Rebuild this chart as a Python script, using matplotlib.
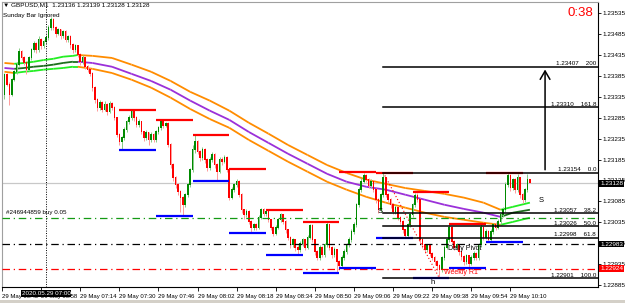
import numpy as np
import pandas as pd
import matplotlib
matplotlib.use("Agg")
import matplotlib.pyplot as plt
from matplotlib.transforms import blended_transform_factory

plt.rcParams["font.family"] = ["Liberation Sans", "DejaVu Sans"]

# GBPUSD M1, 29 May 2020 from 06:43. Prices in points: 23136 -> 1.23136
first_time = "2020-05-29 06:43"
first_open = 23340
closes = [23388, 23364, 23340, 23376, 23395, 23412, 23443, 23428, 23416, 23400,
          23428, 23447, 23462, 23447, 23471, 23457, 23467, 23476, 23500, 23519,
          23500, 23486, 23495, 23481, 23490, 23471, 23478, 23459, 23447, 23457,
          23435, 23419, 23428, 23407, 23400, 23390, 23357, 23328, 23309, 23321,
          23304, 23316, 23299, 23318, 23309, 23285, 23244, 23227, 23237, 23256,
          23275, 23285, 23299, 23285, 23268, 23275, 23251, 23237, 23249, 23232,
          23244, 23232, 23251, 23261, 23275, 23266, 23271, 23220, 23172, 23141,
          23125, 23108, 23094, 23077, 23101, 23125, 23160, 23208, 23227, 23204,
          23189, 23208, 23184, 23165, 23184, 23196, 23172, 23156, 23184, 23180,
          23189, 23160, 23094, 23113, 23125, 23132, 23101, 23065, 23053, 23060,
          23036, 23022, 23029, 23022, 23046, 23065, 23055, 23060, 23041, 23022,
          23008, 23022, 23041, 23053, 23036, 23017, 22998, 22981, 22993, 22974,
          22969, 22984, 22993, 22974, 22998, 23027, 22993, 22964, 22950, 22974,
          22957, 22981, 23029, 22974, 22957, 22969, 22941, 22931, 22950, 22964,
          22981, 22993, 23012, 23029, 23077, 23113, 23132, 23146, 23137, 23122,
          23132, 23113, 23089, 23065, 23101, 23141, 23101, 23089, 23077, 23060,
          23070, 23046, 23036, 23017, 23003, 23029, 23053, 23077, 23098, 23089,
          22993, 22981, 22969, 22979, 22960, 22950, 22941, 22931, 22921, 22950,
          22974, 22993, 23022, 22988, 22974, 22981, 22964, 22953, 22941, 22955,
          22936, 22950, 22960, 22950, 22981, 23022, 22998, 23012, 22993, 23012,
          23029, 23022, 23036, 23053, 23065, 23125, 23146, 23117, 23137, 23113,
          23141, 23101, 23089, 23113, 23136, 23128]
highs = [23392, 23391, 23370, 23380, 23400, 23418, 23452, 23448, 23432, 23420,
         23432, 23452, 23468, 23466, 23481, 23476, 23472, 23482, 23506, 23526,
         23524, 23504, 23500, 23498, 23496, 23494, 23484, 23482, 23464, 23462,
         23460, 23440, 23434, 23430, 23412, 23404, 23394, 23360, 23332, 23328,
         23326, 23324, 23320, 23326, 23322, 23312, 23288, 23248, 23242, 23262,
         23280, 23292, 23304, 23302, 23290, 23282, 23278, 23254, 23256, 23252,
         23250, 23248, 23256, 23266, 23282, 23280, 23276, 23274, 23224, 23176,
         23146, 23130, 23112, 23098, 23106, 23130, 23166, 23220, 23244, 23232,
         23208, 23214, 23212, 23188, 23190, 23202, 23200, 23176, 23190, 23190,
         23196, 23194, 23163, 23120, 23130, 23138, 23136, 23104, 23068, 23066,
         23064, 23040, 23034, 23034, 23052, 23070, 23070, 23067, 23064, 23044,
         23026, 23028, 23046, 23058, 23056, 23040, 23020, 23002, 22998, 22996,
         22980, 22990, 22998, 22996, 23004, 23032, 23030, 22996, 22968, 22980,
         22978, 22986, 23036, 23032, 22978, 22975, 22972, 22946, 22956, 22970,
         22986, 23000, 23018, 23036, 23082, 23120, 23140, 23154, 23150, 23140,
         23138, 23136, 23116, 23092, 23106, 23154, 23144, 23106, 23092, 23080,
         23076, 23074, 23050, 23040, 23020, 23034, 23058, 23082, 23106, 23104,
         23092, 22996, 22984, 22984, 22982, 22964, 22954, 22944, 22936, 22955,
         22980, 22998, 23030, 23026, 22992, 22986, 22984, 22968, 22956, 22960,
         22958, 22956, 22966, 22964, 22986, 23030, 23026, 23018, 23016, 23018,
         23034, 23036, 23042, 23058, 23072, 23132, 23154, 23150, 23142, 23140,
         23150, 23144, 23104, 23118, 23150, 23139]
lows = [23330, 23360, 23316, 23336, 23372, 23390, 23408, 23424, 23410, 23390,
        23396, 23424, 23442, 23440, 23443, 23450, 23452, 23462, 23472, 23495,
        23494, 23478, 23482, 23474, 23476, 23466, 23466, 23452, 23440, 23442,
        23430, 23412, 23414, 23402, 23394, 23384, 23350, 23320, 23300, 23304,
        23298, 23300, 23292, 23296, 23304, 23280, 23238, 23220, 23208, 23232,
        23250, 23270, 23280, 23278, 23262, 23264, 23246, 23230, 23232, 23220,
        23228, 23226, 23228, 23246, 23256, 23260, 23262, 23214, 23166, 23134,
        23118, 23100, 23060, 23051, 23072, 23096, 23120, 23156, 23200, 23198,
        23182, 23184, 23178, 23158, 23160, 23180, 23166, 23134, 23152, 23172,
        23176, 23155, 23088, 23090, 23108, 23120, 23096, 23058, 23044, 23048,
        23030, 23010, 23016, 23016, 23018, 23042, 23050, 23050, 23036, 23016,
        23002, 23004, 23018, 23036, 23030, 23010, 22992, 22974, 22976, 22966,
        22957, 22964, 22978, 22968, 22970, 22994, 22988, 22958, 22944, 22946,
        22952, 22952, 22976, 22968, 22950, 22952, 22914, 22926, 22926, 22946,
        22960, 22976, 22988, 23006, 23024, 23072, 23108, 23128, 23132, 23116,
        23118, 23108, 23082, 23058, 23060, 23096, 23096, 23084, 23070, 23054,
        23055, 23040, 23030, 23010, 22998, 22998, 23024, 23048, 23072, 23084,
        22986, 22974, 22962, 22964, 22954, 22944, 22934, 22922, 22901, 22915,
        22946, 22970, 22988, 22982, 22968, 22968, 22958, 22946, 22934, 22936,
        22926, 22932, 22946, 22944, 22946, 22976, 22992, 22994, 22988, 22988,
        23006, 23016, 23018, 23030, 23048, 23060, 23120, 23110, 23112, 23106,
        23108, 23094, 23082, 23084, 23108, 23128]

# moving average band (center / upper / lower), read at anchor bars
ma_bars = [0, 4, 8, 12, 16, 20, 24, 28, 30, 36, 44, 52, 60, 68, 76, 84, 92, 100,
           108, 116, 124, 132, 140, 148, 156, 164, 172, 180, 188, 196, 203, 208, 215]
ma_center = [23404, 23402, 23404, 23407, 23409, 23412, 23416, 23419, 23419, 23416, 23407,
             23390, 23373, 23352, 23326, 23302, 23280, 23251, 23225, 23199, 23175, 23151,
             23132, 23120, 23113, 23101, 23089, 23077, 23067, 23058, 23048, 23058, 23065]
ma_upper = [23416, 23414, 23416, 23419, 23423, 23426, 23431, 23433, 23435, 23433, 23428,
            23412, 23395, 23373, 23347, 23326, 23302, 23273, 23247, 23220, 23196, 23172,
            23153, 23137, 23127, 23117, 23110, 23103, 23094, 23082, 23065, 23072, 23082]
ma_lower = [23395, 23392, 23395, 23397, 23400, 23402, 23404, 23407, 23407, 23402, 23392,
            23376, 23357, 23333, 23306, 23282, 23261, 23232, 23206, 23180, 23156, 23132,
            23113, 23096, 23082, 23070, 23058, 23048, 23041, 23034, 23029, 23036, 23046]
ma_trend = ["d"] + ["u"] * 7 + ["d"] * 22 + ["u"] * 2

# 15 minute high / low marks
box_start = [47, 62, 77, 92, 107, 122, 137, 152, 167, 182, 197]
box_high = [23304, 23280, 23244, 23163, 23065, 23036, 23156, 23154, 23108, 23031, 23153]
box_low = [23208, 23050, 23134, 23010, 22957, 22914, 22926, 22998, 22902, 22926, 22988]

# fibonacci
fib_start, fib_end = 155, 178
fib_prices = [1.23407, 1.23310, 1.23154, 1.23057, 1.23026, 1.22998, 1.22901]
fib_names = ["200", "161.8", "0.0", "38.2", "50.0", "61.8", "100.0"]

order_price = 1.23046
pivot_price = 1.22983
r1_price = 1.22924
bid_price = 1.23128

def px(v):
    return 1 + np.asarray(v, dtype=float) / 1e5

c = px(closes)
h = px(highs)
l = px(lows)
o = np.r_[px(first_open), c[:-1]]
t = np.arange(len(c))
times = pd.date_range(first_time, periods=len(c), freq="min")

fig = plt.figure(figsize=(6.25, 3.03), dpi=100)
ax = fig.add_axes([2 / 625, 16 / 303, 596 / 625, 285 / 303])
ax.set_xlim(-0.41, 242.86)
ax.set_ylim(1.228803, 1.235618)

# MA band
for k in range(len(ma_bars) - 1):
    xs = ma_bars[k:k + 2]
    if ma_trend[k] == "u":
        cu, cc = "#22ee22", "#1d6e1d"
    else:
        cu, cc = "#ff8c00", "#9b30d9"
    ax.plot(xs, px(ma_upper[k:k + 2]), color=cu, lw=1.3, zorder=2, solid_capstyle="butt")
    ax.plot(xs, px(ma_lower[k:k + 2]), color=cu, lw=1.3, zorder=2, solid_capstyle="butt")
    ax.plot(xs, px(ma_center[k:k + 2]), color=cc, lw=1.3, zorder=2, solid_capstyle="butt")

# candles
up = c >= o
ax.vlines(t[up], l[up], h[up], color="#86cc86", lw=0.7, zorder=3)
ax.vlines(t[~up], l[~up], h[~up], color="#ff9a9a", lw=0.7, zorder=3)
body = np.abs(c - o) + 0.000015
ax.bar(t[up], body[up], bottom=np.minimum(o, c)[up], width=0.66, color="#008a00", lw=0, zorder=4)
ax.bar(t[~up], body[~up], bottom=np.minimum(o, c)[~up], width=0.66, color="#ff0000", lw=0, zorder=4)

# horizontal levels
dashdot = (0, (6, 3, 1, 3))
ax.axhline(bid_price, color="#c8c8c8", lw=0.9, zorder=1)
ax.axhline(order_price, color="#149a14", lw=0.9, ls=dashdot, zorder=5)
ax.axhline(pivot_price, color="black", lw=0.9, ls=dashdot, zorder=5)
ax.axhline(r1_price, color="red", lw=0.9, ls=dashdot, zorder=5)

# 15 minute marks
for s, hi, lo in zip(box_start, box_high, box_low):
    ax.plot([s, s + 15], [px(hi)] * 2, color="red", lw=1.6, zorder=5, solid_capstyle="butt")
    ax.plot([s, s + 15], [px(lo)] * 2, color="blue", lw=1.6, zorder=5, solid_capstyle="butt")

# fibo
ax.plot([fib_start, fib_end], [fib_prices[2], fib_prices[-1]], color="red", lw=0.8, ls=(0, (1, 2)), zorder=6)
trx = blended_transform_factory(ax.transAxes, ax.transData)
for p, name in zip(fib_prices, fib_names):
    ax.plot([fib_start, 242.86], [p, p], color="black", lw=1.1, zorder=6)
    ax.text(0.997, p + 0.00001, f"{p:.5f}    {name}", transform=trx, ha="right", va="bottom",
            fontsize=4.5, zorder=7)
ax.annotate("", xy=(221.2, fib_prices[0]), xytext=(221.2, fib_prices[2]),
            arrowprops=dict(arrowstyle="->,head_width=0.35,head_length=0.6", color="black", lw=1.1),
            zorder=7)

# chart objects text
ax.text(153.9, 1.23062, "S", fontsize=5.5, ha="center", va="center", zorder=7)
ax.text(219.6, 1.23086, "S", fontsize=5.5, ha="center", va="center", zorder=7)
ax.text(175.1, 1.22890, "h", fontsize=5.5, ha="center", va="center", zorder=7)
ax.text(181.5, 1.22972, "Daily Pivot", fontsize=5, ha="left", va="center", zorder=7)
ax.text(180.0, 1.22914, "Weekly R1", fontsize=5, color="red", ha="left", va="center", zorder=7)
ax.text(0.8, 1.23058, "#246944859 buy 0.05", fontsize=4.5, ha="left", va="center", zorder=7)

# crosshair
ax.axvline(17, color="black", lw=0.7, ls=(0, (1, 1.5)), zorder=6)

# axes
for side in ["left", "top"]:
    ax.spines[side].set_color("#a0a0a0")
    ax.spines[side].set_linewidth(0.8)
for side in ["right", "bottom"]:
    ax.spines[side].set_linewidth(0.8)
ax.yaxis.tick_right()
yt = np.arange(1.22885, 1.23536, 0.0005)
ax.set_yticks(yt)
ax.set_yticklabels([f"{v:.5f}" for v in yt], fontsize=4.6)
ax.tick_params(axis="y", length=2, width=0.6, pad=1)
xt = np.arange(-1, len(c), 16)
ax.set_xticks(xt)
xlabels = [(times[0] + pd.Timedelta(minutes=int(b))).strftime("%d %b %H:%M") for b in xt]
ax.set_xticklabels(xlabels, fontsize=4.3, ha="left")
ax.tick_params(axis="x", length=3, width=0.6, pad=2)
for lab in ax.get_xticklabels():
    lab.set_x(lab.get_position()[0])

# boxed price labels on the scale
for p, bg in [(bid_price, "black"), (pivot_price, "black"), (r1_price, "red")]:
    ax.text(1.0035, p, f"{p:.5f}", transform=trx, ha="left", va="center", fontsize=4.6,
            color="white", bbox=dict(boxstyle="square,pad=0.12", fc=bg, ec="none"), zorder=8,
            clip_on=False)

# crosshair time label
trxa = blended_transform_factory(ax.transData, ax.transAxes)
ax.text(17, -0.024, "2020.05.29 07:00", transform=trxa, ha="center", va="center", fontsize=4.5,
        color="white", bbox=dict(boxstyle="square,pad=0.15", fc="black", ec="none"),
        clip_on=False, zorder=9)

# header texts
fig.text(3 / 625, 1 - 5 / 303, "\u25bc GBPUSD,M1  1.23136 1.23139 1.23128 1.23128",
         fontsize=4.6, va="center", ha="left")
fig.text(3 / 625, 1 - 15 / 303, "Sunday Bar Ignored", fontsize=4.6, va="center", ha="left")
fig.text(593 / 625, 1 - 13 / 303, "0:38", fontsize=9.5, color="red", va="center", ha="right")

# bottom scroll strip
fig.add_artist(plt.Rectangle((0, 0), 1, 3 / 303, transform=fig.transFigure,
                             color="#d4d0c8", lw=0))

fig.savefig("out.png", dpi=100)
